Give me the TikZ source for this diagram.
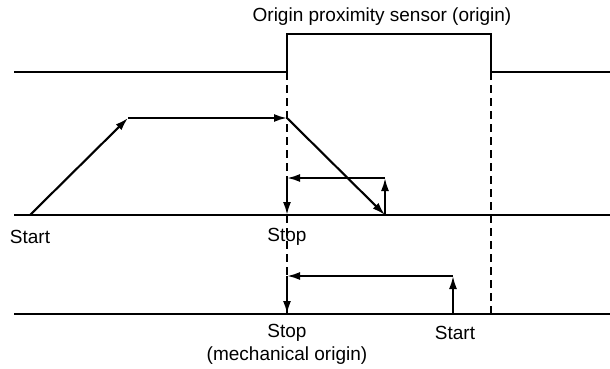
\documentclass[tikz,border=0pt]{standalone}
\usepackage{fontspec}
\setmainfont{Liberation Sans}
\usetikzlibrary{arrows.meta}
\begin{document}
\begin{tikzpicture}[x=1pt,y=-1pt,
  sig/.style={line width=2.3pt},
  arr/.style={line width=2.1pt,-{Latex[length=13pt,width=8pt]}},
  guide/.style={line width=1.5pt,dash pattern=on 8pt off 5pt},
  lbl/.style={font=\fontsize{19}{22}\selectfont,inner sep=0pt,align=center}]
\useasboundingbox (0,0) rectangle (610,369);
% coordinates
\coordinate (s0) at (14,72);
\coordinate (s1) at (287,72);
\coordinate (s2) at (287,34);
\coordinate (s3) at (491,34);
\coordinate (s4) at (491,72);
\coordinate (s5) at (610,72);
\coordinate (m0) at (14,215);
\coordinate (m1) at (610,215);
\coordinate (b0) at (14,314);
\coordinate (b1) at (610,314);
\coordinate (ra) at (30,215);
\coordinate (rb) at (128,118);
\coordinate (rc) at (287,118);
\coordinate (rd) at (385,215);
\coordinate (re) at (385,178);
\coordinate (rf) at (287,178);
\coordinate (rg) at (287,215);
\coordinate (ba) at (453,314);
\coordinate (bb) at (453,276);
\coordinate (bc) at (287,276);
\coordinate (bd) at (287,314);
\coordinate (d1) at (491,314);
% labels
\node[lbl] (title) at (382,17) {Origin proximity sensor (origin)};
\node[lbl] (start1) at (30,237) {Start};
\node[lbl] (stop1) at (287,237) {Stop};
\node[lbl] (stop2) at (287,333) {Stop};
\node[lbl] (mech) at (287,356) {(mechanical origin)};
\node[lbl] (start2) at (455,333) {Start};
% signal
\draw[sig] (s0) -- (s1) -- (s2) -- (s3) -- (s4) -- (s5);
\draw[sig] (m0) -- (m1);
\draw[sig] (b0) -- (b1);
% guides
\draw[guide] (s1) -- (bd);
\draw[guide] (s4) -- (d1);
% motion arrows
\draw[arr] (ra) -- (rb);
\draw[arr] (rb) -- (rc);
\draw[arr] (rc) -- (rd);
\draw[arr] (rd) -- (re);
\draw[arr] (re) -- (rf);
\draw[arr] (rf) -- (rg);
\draw[arr] (ba) -- (bb);
\draw[arr] (bb) -- (bc);
\draw[arr] (bc) -- (bd);
\end{tikzpicture}
\end{document}
